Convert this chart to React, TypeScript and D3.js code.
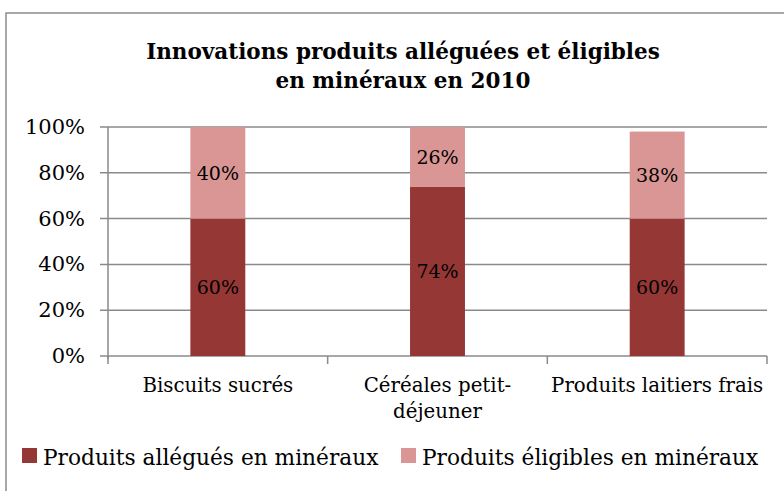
import React from "react";
import * as d3 from "d3";

const categories: string[][] = [["Biscuits sucrés"], ["Céréales petit-", "déjeuner"], ["Produits laitiers frais"]];
const allegues: number[] = [60, 74, 60];
const eligibles: number[] = [40, 26, 38];
const yTicks: number[] = [0, 20, 40, 60, 80, 100];
const seriesNames: string[] = ["Produits allégués en minéraux", "Produits éligibles en minéraux"];
const titleLines: string[] = ["Innovations produits alléguées et éligibles", "en minéraux en 2010"];

const W = 784;
const H = 491;
const plot = { left: 108, right: 767, top: 127, bottom: 356 };
const colDark = "#953735";
const colLight = "#D99694";
const gridCol = "#8a8a8a";
const font = "'DejaVu Serif', serif";

export default function App() {
  const x = d3.scaleBand<number>().domain(d3.range(categories.length)).range([plot.left, plot.right]).paddingInner(0).paddingOuter(0);
  const y = d3.scaleLinear().domain([0, 100]).range([plot.bottom, plot.top]);
  const bw = x.bandwidth() * 0.25;
  const stack = categories.map((_, i) => [
    { y0: 0, y1: allegues[i], v: allegues[i], c: colDark },
    { y0: allegues[i], y1: allegues[i] + eligibles[i], v: eligibles[i], c: colLight },
  ]);
  const boundaries = d3.range(categories.length + 1).map((i) => (i < categories.length ? (x(i) as number) : plot.right));

  return (
    <svg width={W} height={H} style={{ position: "absolute", left: 0, top: 0, background: "#fff" }}>
      <rect x={0} y={0} width={W} height={H} fill="#fff" />
      <rect x={6} y={13} width={W + 20} height={H + 20} fill="#fff" stroke="#8c8c8c" strokeWidth={1.5} />
      {titleLines.map((t, i) => (
        <text key={i} x={403} y={59 + i * 29} textAnchor="middle" fontFamily={font} fontWeight="bold" fontSize={21.5} fill="#000">
          {t}
        </text>
      ))}
      {yTicks.map((t) => (
        <g key={t}>
          <line x1={plot.left - 8} x2={plot.right} y1={y(t)} y2={y(t)} stroke={gridCol} strokeWidth={1.5} />
          <text x={85} y={y(t) + 7} textAnchor="end" fontFamily={font} fontSize={21} fill="#000">
            {t}%
          </text>
        </g>
      ))}
      <line x1={plot.left} x2={plot.left} y1={plot.top} y2={plot.bottom + 3} stroke={gridCol} strokeWidth={1.5} />
      {boundaries.map((bx, i) => (
        <line key={i} x1={bx} x2={bx} y1={plot.bottom} y2={plot.bottom + 8} stroke={gridCol} strokeWidth={1.5} />
      ))}
      {stack.map((segs, i) => {
        const cx = (x(i) as number) + x.bandwidth() / 2;
        return (
          <g key={i}>
            {segs.map((s, j) => (
              <g key={j}>
                <rect x={cx - bw / 2} y={y(s.y1)} width={bw} height={y(s.y0) - y(s.y1)} fill={s.c} />
                <text x={cx} y={(y(s.y0) + y(s.y1)) / 2 + 7} textAnchor="middle" fontFamily={font} fontSize={19} fill="#000">
                  {s.v}%
                </text>
              </g>
            ))}
            {categories[i].map((line, k) => (
              <text key={k} x={cx} y={392 + k * 26} textAnchor="middle" fontFamily={font} fontSize={19.8} fill="#000">
                {line}
              </text>
            ))}
          </g>
        );
      })}
      {seriesNames.map((n, i) => {
        const lx = i === 0 ? 22 : 401;
        return (
          <g key={n}>
            <rect x={lx} y={448} width={15} height={15} fill={i === 0 ? colDark : colLight} />
            <text x={lx + 21} y={465} fontFamily={font} fontSize={21.7} fill="#000">
              {n}
            </text>
          </g>
        );
      })}
    </svg>
  );
}
